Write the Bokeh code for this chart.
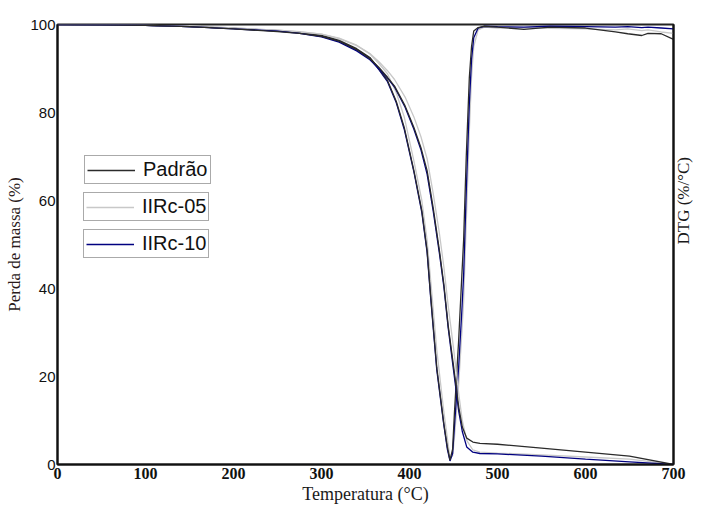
import math
from bokeh.plotting import figure
from bokeh.models import Range1d, LinearAxis, Legend, LegendItem, FixedTicker
from bokeh.embed import file_html
from bokeh.resources import INLINE

# ---- data ----
SERIES = ["Padrão", "IIRc-05", "IIRc-10"]
COLORS = ["#2b2b2b", "#c8c8c8", "#000080"]

X_TICKS = [0, 100, 200, 300, 400, 500, 600, 700]
Y_TICKS = [0, 20, 40, 60, 80, 100]

# TG curves (mass, %)
T_TG = [0, 50, 100, 150, 200, 250, 275, 300, 320, 340, 355, 365, 375, 383, 395,
        405, 413, 420, 427, 434, 439, 444, 450, 456, 460, 465, 472, 480, 500,
        550, 600, 650, 700]
TG_PADRAO = [100, 99.9, 99.8, 99.5, 99.0, 98.4, 98.0, 97.3, 96.2, 94.3, 92.2, 90.3,
             88.0, 86.0, 81.5, 76.6, 72.0, 66.8, 58.2, 48.6, 41.0, 31.5, 22.4, 13.0,
             8.5, 6.0, 5.1, 4.8, 4.6, 3.7, 2.8, 1.9, 0.0]
TG_IIRC05 = [100, 99.9, 99.8, 99.6, 99.2, 98.7, 98.3, 97.8, 96.9, 95.3, 93.4, 91.6,
             89.5, 87.5, 83.5, 79.0, 74.5, 69.5, 61.5, 52.5, 45.0, 36.0, 26.5, 16.0,
             10.0, 5.5, 3.3, 2.8, 2.6, 2.2, 1.7, 1.2, 0.0]
TG_IIRC10 = [100, 99.9, 99.8, 99.5, 99.0, 98.5, 98.0, 97.2, 96.0, 94.0, 92.0, 90.0,
             87.8, 85.8, 81.2, 76.2, 71.5, 66.0, 57.5, 48.0, 40.5, 31.0, 21.5, 12.0,
             7.5, 4.0, 2.8, 2.5, 2.4, 1.9, 1.2, 0.6, 0.0]

# DTG curves (drawn on the same vertical scale, baseline near 100)
T_DTG = [0, 50, 100, 150, 200, 250, 275, 300, 320, 340, 355, 365, 375, 385, 394,
         405, 414, 420, 424, 431, 439, 443, 446, 449, 451, 455.8, 459.5, 461.5,
         464.5, 468, 470.5, 473, 478, 485, 500, 530, 560, 600, 634, 648, 664, 671,
         686, 700]
DTG_PADRAO = [100, 99.9, 99.8, 99.5, 99.1, 98.5, 98.2, 97.5, 96.4, 94.5, 92.5, 90.0,
              87.3, 82.5, 76.6, 66.8, 57.7, 48.6, 38.5, 22.0, 9.3, 4.0, 1.0, 3.5,
              11.5, 28.0, 43.0, 51.0, 70.0, 88.0, 95.0, 98.5, 99.3, 99.6, 99.4, 98.9,
              99.4, 99.2, 98.3, 97.9, 97.5, 98.0, 97.9, 96.6]
DTG_IIRC05 = [100, 99.9, 99.8, 99.6, 99.2, 98.7, 98.4, 97.8, 96.8, 95.2, 93.3, 91.2,
              88.8, 84.5, 79.0, 69.0, 60.0, 51.0, 42.0, 26.0, 12.0, 6.0, 1.5, 2.0,
              6.0, 18.0, 30.0, 37.0, 55.0, 76.0, 88.0, 95.0, 98.8, 99.4, 99.2, 99.3,
              99.1, 99.0, 98.8, 99.0, 98.6, 98.8, 98.3, 98.0]
DTG_IIRC10 = [100, 99.9, 99.8, 99.5, 99.1, 98.6, 98.1, 97.3, 96.2, 94.3, 92.3, 89.8,
              87.0, 82.2, 76.2, 66.5, 57.3, 48.2, 38.0, 21.5, 9.0, 3.5, 0.8, 2.5,
              8.5, 22.0, 35.0, 43.0, 62.0, 82.0, 92.0, 97.0, 99.2, 99.6, 99.5, 99.4,
              99.6, 99.5, 99.4, 99.5, 99.3, 99.4, 99.2, 99.0]

TG = [TG_PADRAO, TG_IIRC05, TG_IIRC10]
DTG = [DTG_PADRAO, DTG_IIRC05, DTG_IIRC10]

p = figure(width=705, height=506, x_range=Range1d(0, 700), y_range=Range1d(0, 100),
           output_backend="svg", toolbar_location=None,
           min_border_left=57, min_border_right=26, min_border_top=24,
           min_border_bottom=42)
p.grid.visible = False
p.outline_line_color = "#222222"
p.outline_line_width = 2
p.background_fill_color = "white"
p.border_fill_color = "white"

tg_renderers = []
order = [1, 2, 0]
for i in order:
    p.line(T_DTG, DTG[i], line_color=COLORS[i], line_width=1.3)
for i in order:
    r = p.line(T_TG, TG[i], line_color=COLORS[i], line_width=1.3)
    tg_renderers.append((i, r))
rmap = dict(tg_renderers)

# axes
xa = p.xaxis[0]
xa.ticker = FixedTicker(ticks=X_TICKS)
xa.axis_label = "Temperatura (°C)"
xa.axis_label_text_font = "Liberation Serif"
xa.axis_label_text_font_style = "normal"
xa.axis_label_text_font_size = "18px"
xa.axis_label_text_color = "#1a1a1a"
xa.axis_label_standoff = 2
xa.major_label_text_font = "Liberation Serif"
xa.major_label_text_font_style = "bold"
xa.major_label_text_font_size = "16px"
xa.major_label_text_color = "#111111"
xa.major_label_standoff = 3

ya = p.yaxis[0]
ya.ticker = FixedTicker(ticks=Y_TICKS)
ya.axis_label = "Perda de massa (%)"
ya.axis_label_text_font = "Liberation Serif"
ya.axis_label_text_font_style = "normal"
ya.axis_label_text_font_size = "17px"
ya.axis_label_text_color = "#2a1a1a"
ya.axis_label_standoff = 3
ya.major_label_text_font = "Liberation Sans"
ya.major_label_text_font_size = "15px"
ya.major_label_text_color = "#111111"
ya.major_label_standoff = 2

# right axis: frame line plus the DTG title, reading bottom-to-top
ra = LinearAxis(ticker=FixedTicker(ticks=[]), axis_label="DTG (%/°C)")
ra.axis_label_text_font = "Liberation Serif"
ra.axis_label_text_font_style = "normal"
ra.axis_label_text_font_size = "17px"
ra.axis_label_text_color = "#1a1a1a"
ra.axis_label_standoff = 10
ra.axis_label_orientation = math.pi / 2
p.add_layout(ra, "right")

for ax in [xa, ya, ra]:
    ax.axis_line_color = "#111111"
    ax.axis_line_width = 2
    ax.major_tick_in = 0
    ax.major_tick_out = 0
    ax.minor_tick_in = 0
    ax.minor_tick_out = 0

# three separate framed legend boxes
LEG_POS = [(27, 280), (26, 243), (26, 206)]
for i in range(3):
    leg = Legend(items=[LegendItem(label=SERIES[i], renderers=[rmap[i]])],
                 location=LEG_POS[i], orientation="vertical",
                 label_text_font="Liberation Sans", label_text_font_size="20px",
                 label_text_color="#111111",
                 glyph_width=48, glyph_height=14, label_height=14,
                 label_standoff=8, padding=2, margin=0, spacing=0,
                 border_line_color="#555555", border_line_width=1.5,
                 background_fill_alpha=1.0, background_fill_color="white")
    p.add_layout(leg, "center")

open("out.html", "w").write(file_html(p, INLINE))
